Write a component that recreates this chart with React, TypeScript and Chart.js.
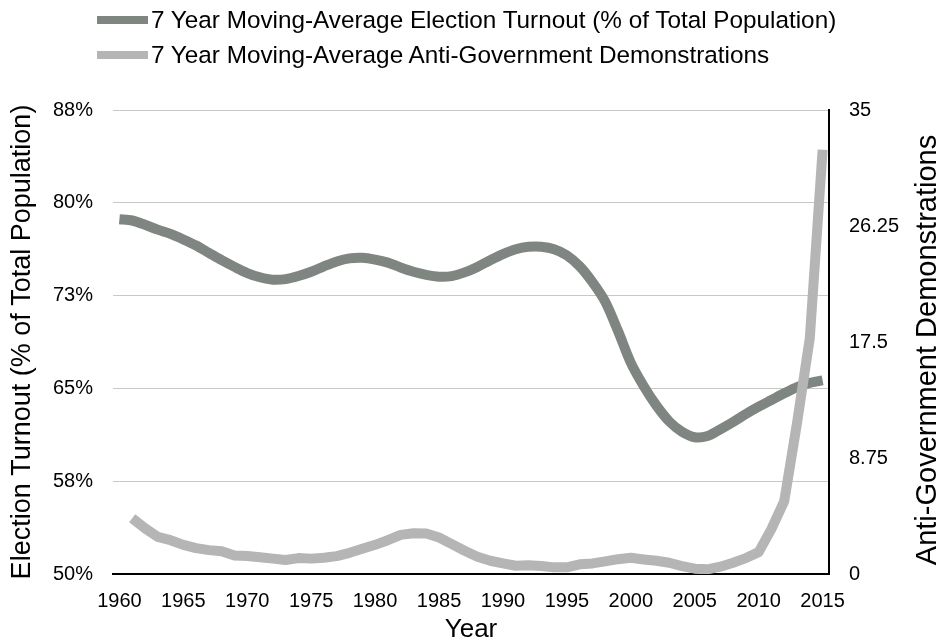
import React, { useEffect, useRef } from "react";
import { Chart, registerables } from "chart.js";

Chart.register(...registerables);

const YEARS: string[] = [
  "1960","1961","1962","1963","1964","1965","1966","1967","1968","1969",
  "1970","1971","1972","1973","1974","1975","1976","1977","1978","1979",
  "1980","1981","1982","1983","1984","1985","1986","1987","1988","1989",
  "1990","1991","1992","1993","1994","1995","1996","1997","1998","1999",
  "2000","2001","2002","2003","2004","2005","2006","2007","2008","2009",
  "2010","2011","2012","2013","2014","2015",
];

const TURNOUT: (number | null)[] = [
  79.05, 78.95, 78.6, 78.2, 77.85, 77.4, 76.9, 76.3, 75.7, 75.15,
  74.65, 74.3, 74.1, 74.15, 74.4, 74.75, 75.2, 75.6, 75.85, 75.9,
  75.75, 75.5, 75.1, 74.75, 74.5, 74.35, 74.4, 74.7, 75.15, 75.7,
  76.2, 76.6, 76.8, 76.8, 76.6, 76.1, 75.2, 73.9, 72.3, 69.9,
  67.3, 65.4, 63.8, 62.5, 61.65, 61.2, 61.3, 61.85, 62.45, 63.1,
  63.7, 64.25, 64.8, 65.3, 65.65, 65.85,
];

const DEMONSTRATIONS: (number | null)[] = [
  null, 4.2, 3.45, 2.8, 2.55, 2.2, 1.95, 1.8, 1.72, 1.4,
  1.36, 1.26, 1.16, 1.06, 1.2, 1.16, 1.22, 1.35, 1.6, 1.9,
  2.2, 2.55, 2.95, 3.07, 3.05, 2.75, 2.25, 1.75, 1.3, 1.0,
  0.8, 0.62, 0.66, 0.6, 0.5, 0.5, 0.73, 0.8, 0.95, 1.12,
  1.22, 1.1, 1.0, 0.85, 0.6, 0.4, 0.35, 0.55, 0.85, 1.2,
  1.65, 3.4, 5.5, 11.4, 17.8, 32.0,
];

const SERIES_NAMES: string[] = [
  "7 Year Moving-Average Election Turnout (% of Total Population)",
  "7 Year Moving-Average Anti-Government Demonstrations",
];
const X_TITLE = "Year";
const LEFT_TITLE = "Election Turnout (% of Total Population)";
const RIGHT_TITLE = "Anti-Government Demonstrations";

const LEFT_MIN = 50;
const LEFT_MAX = 88;
const LEFT_STEP = 7.6;
const RIGHT_MIN = 0;
const RIGHT_MAX = 35;
const RIGHT_STEP = 8.75;

const DARK = "#7f8682";
const LIGHT = "#b5b5b5";
const FONT = "'Liberation Sans', Arial, Helvetica, sans-serif";

const rightTitlePlugin = {
  id: "rightTitle",
  afterDraw(chart: any) {
    const ctx = chart.ctx;
    const ca = chart.chartArea;
    ctx.save();
    ctx.translate(chart.width - 13, (ca.top + ca.bottom) / 2 + 8);
    ctx.rotate(-Math.PI / 2);
    ctx.font = `29px ${FONT}`;
    ctx.fillStyle = "#000";
    ctx.textAlign = "center";
    ctx.textBaseline = "middle";
    ctx.fillText(RIGHT_TITLE, 0, 0);
    ctx.restore();
  },
};

export default function App() {
  const ref = useRef<HTMLCanvasElement | null>(null);

  useEffect(() => {
    document.body.style.margin = "0";
    const canvas = ref.current;
    if (!canvas) return;
    Chart.defaults.font.family = FONT;
    Chart.defaults.color = "#000";
    const chart = new Chart(canvas, {
      type: "line",
      data: {
        labels: YEARS,
        datasets: [
          {
            label: SERIES_NAMES[0],
            data: TURNOUT,
            borderColor: DARK,
            backgroundColor: DARK,
            borderWidth: 10,
            pointRadius: 0,
            tension: 0.3,
            borderJoinStyle: "round",
            yAxisID: "y",
            order: 1,
          },
          {
            label: SERIES_NAMES[1],
            data: DEMONSTRATIONS,
            borderColor: LIGHT,
            backgroundColor: LIGHT,
            borderWidth: 10,
            pointRadius: 0,
            tension: 0,
            borderJoinStyle: "round",
            yAxisID: "y1",
            order: 0,
          },
        ],
      },
      options: {
        responsive: false,
        animation: false,
        layout: { padding: { top: 110, left: 0, right: 0, bottom: 0 } },
        plugins: {
          legend: { display: false },
          tooltip: { enabled: false },
        },
        scales: {
          x: {
            type: "category",
            offset: true,
            grid: { display: false, drawTicks: false },
            border: { display: true, color: "#000", width: 2 },
            ticks: {
              autoSkip: false,
              maxRotation: 0,
              padding: 15,
              font: { size: 20 },
              color: "#000",
              callback: function (this: any, val: any, idx: number) {
                const lab = YEARS[idx];
                return Number(lab) % 5 === 0 ? lab : "";
              },
            },
            title: {
              display: true,
              text: X_TITLE,
              font: { size: 26, lineHeight: 0.85 },
              color: "#000",
              padding: { top: 0, bottom: 0 },
            },
            afterFit(scale: any) {
              scale.height = 67;
            },
          },
          y: {
            type: "linear",
            position: "left",
            min: LEFT_MIN,
            max: LEFT_MAX,
            grid: { color: "#c8c8c8", lineWidth: 1, drawTicks: false },
            border: { display: false },
            ticks: {
              stepSize: LEFT_STEP,
              padding: 20,
              font: { size: 20 },
              color: "#000",
              callback: (v: any) => Math.round(Number(v)) + "%",
            },
            title: {
              display: true,
              text: LEFT_TITLE,
              font: { size: 27, lineHeight: 1.2 },
              color: "#000",
              padding: { top: 6, bottom: 0 },
            },
            afterFit(scale: any) {
              scale.width = 113;
            },
          },
          y1: {
            type: "linear",
            position: "right",
            min: RIGHT_MIN,
            max: RIGHT_MAX,
            grid: { display: false, drawTicks: false },
            border: { display: true, color: "#000", width: 2 },
            ticks: {
              stepSize: RIGHT_STEP,
              padding: 20,
              font: { size: 20 },
              color: "#000",
              callback: (v: any) => String(Number(v)),
            },
            afterFit(scale: any) {
              scale.width = 112;
            },
          },
        },
      } as any,
      plugins: [rightTitlePlugin],
    });
    return () => chart.destroy();
  }, []);

  const rowStyle = (top: number): React.CSSProperties => ({
    position: "absolute",
    left: 97,
    top,
    height: 28,
    display: "flex",
    alignItems: "center",
    whiteSpace: "nowrap",
    fontFamily: FONT,
    fontSize: 24.3,
    lineHeight: "28px",
    color: "#000",
  });
  const boxStyle = (color: string): React.CSSProperties => ({
    width: 51,
    height: 8,
    background: color,
    marginRight: 3,
    flex: "none",
  });

  return (
    <div style={{ position: "relative", width: 941, height: 641, overflow: "hidden", background: "#fff" }}>
      <canvas ref={ref} width={941} height={641} style={{ display: "block", width: 941, height: 641 }} />
      <div style={rowStyle(6)}>
        <div style={boxStyle(DARK)} />
        <span>{SERIES_NAMES[0]}</span>
      </div>
      <div style={rowStyle(41)}>
        <div style={boxStyle(LIGHT)} />
        <span>{SERIES_NAMES[1]}</span>
      </div>
    </div>
  );
}
